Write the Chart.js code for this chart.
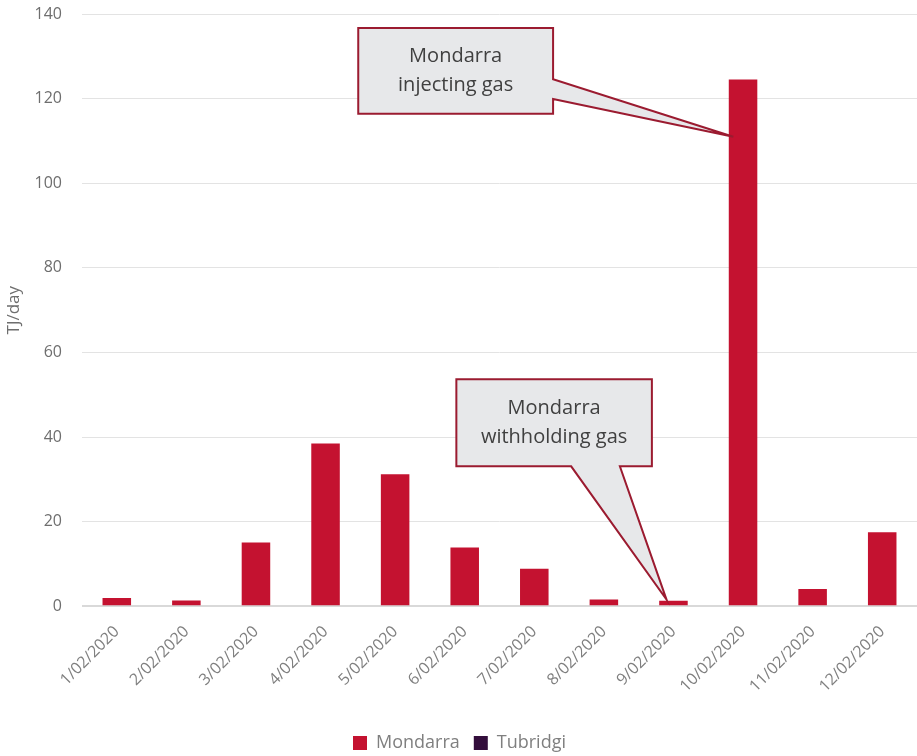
<!DOCTYPE html>
<html>
<head>
<meta charset="utf-8">
<script src="https://cdn.jsdelivr.net/npm/chart.js@4.4.1/dist/chart.umd.min.js"></script>
<style>
  html, body { margin: 0; padding: 0; background: #ffffff; }
  #wrap { width: 917px; height: 756px; }
</style>
</head>
<body>
<div id="wrap"><canvas id="c" width="917" height="756"></canvas></div>
<script>
// ---- data ----
const categories = ['1/02/2020','2/02/2020','3/02/2020','4/02/2020','5/02/2020','6/02/2020',
                    '7/02/2020','8/02/2020','9/02/2020','10/02/2020','11/02/2020','12/02/2020'];
const mondarra = [2.0, 1.4, 15.1, 38.5, 31.2, 13.9, 8.9, 1.6, 1.35, 124.5, 4.1, 17.5];
const tubridgi = [0, 0, 0, 0, 0, 0, 0, 0, 0, 0, 0, 0];
const yTicks = [0, 20, 40, 60, 80, 100, 120, 140];

// callout annotations (in category-index / value units)
const callouts = [
  { lines: ['Mondarra', 'injecting gas'], x0: 3.47, x1: 6.27, yTop: 136.7, yBot: 116.4,
    side: 'right', base: [124.6, 119.9], tip: { x: 8.86, y: 111 } },
  { lines: ['Mondarra', 'withholding gas'], x0: 4.88, x1: 7.69, yTop: 53.7, yBot: 33.1,
    side: 'bottom', base: [6.53, 7.23], tip: { x: 7.9, y: 1.6 } }
];

const FONT = "'Open Sans', 'Noto Sans', sans-serif";

const calloutPlugin = {
  id: 'callouts',
  afterDatasetsDraw(chart) {
    const ctx = chart.ctx;
    const xs = chart.scales.x, ys = chart.scales.y;
    callouts.forEach(c => {
      const L = xs.getPixelForValue(c.x0), R = xs.getPixelForValue(c.x1);
      const T = ys.getPixelForValue(c.yTop), B = ys.getPixelForValue(c.yBot);
      const tx = xs.getPixelForValue(c.tip.x), ty = ys.getPixelForValue(c.tip.y);
      ctx.save();
      ctx.beginPath();
      ctx.moveTo(L, T);
      ctx.lineTo(R, T);
      if (c.side === 'right') {
        const b1 = ys.getPixelForValue(c.base[0]), b2 = ys.getPixelForValue(c.base[1]);
        ctx.lineTo(R, b1);
        ctx.lineTo(tx, ty);
        ctx.lineTo(R, b2);
        ctx.lineTo(R, B);
        ctx.lineTo(L, B);
      } else {
        const b1 = xs.getPixelForValue(c.base[0]), b2 = xs.getPixelForValue(c.base[1]);
        ctx.lineTo(R, B);
        ctx.lineTo(b2, B);
        ctx.lineTo(tx, ty);
        ctx.lineTo(b1, B);
        ctx.lineTo(L, B);
      }
      ctx.closePath();
      ctx.fillStyle = '#E7E8EA';
      ctx.fill();
      ctx.lineWidth = 2;
      ctx.lineJoin = 'miter';
      ctx.strokeStyle = '#9B1B30';
      ctx.stroke();
      ctx.fillStyle = '#404040';
      ctx.font = '20px ' + FONT;
      ctx.textAlign = 'center';
      ctx.textBaseline = 'middle';
      const cx = (L + R) / 2, cy = (T + B) / 2;
      const lh = 29;
      c.lines.forEach((ln, i) => {
        ctx.fillText(ln, cx, cy + (i - (c.lines.length - 1) / 2) * lh);
      });
      ctx.restore();
    });
  }
};

new Chart(document.getElementById('c'), {
  type: 'bar',
  data: {
    labels: categories,
    datasets: [
      { label: 'Mondarra', data: mondarra, backgroundColor: '#C41230', grouped: false,
        barPercentage: 0.41, categoryPercentage: 1.0, borderWidth: 0 },
      { label: 'Tubridgi', data: tubridgi, backgroundColor: '#330E3C', grouped: false,
        barPercentage: 0.41, categoryPercentage: 1.0, borderWidth: 0 }
    ]
  },
  options: {
    responsive: false,
    animation: false,
    layout: { padding: { top: 14, right: 0, left: 2, bottom: -6 } },
    plugins: {
      legend: {
        position: 'bottom',
        labels: { font: { family: FONT, size: 18 }, color: '#7F7F7F',
                  boxWidth: 14, boxHeight: 14, padding: 14 }
      },
      tooltip: { enabled: false }
    },
    scales: {
      x: {
        grid: { display: false, drawTicks: false },
        border: { display: false },
        afterFit(scale) { scale.height += 8; },
        ticks: { font: { family: FONT, size: 16 }, color: '#7F7F7F',
                 maxRotation: 45, minRotation: 45, padding: 16, autoSkip: false }
      },
      y: {
        min: 0, max: 140,
        afterBuildTicks(scale) { scale.ticks = yTicks.map(v => ({ value: v })); },
        afterFit(scale) { scale.width = 80; scale.paddingTop = 0; scale.paddingBottom = 0; },
        grid: {
          drawTicks: false,
          color: ctx => ctx.tick && ctx.tick.value === 0 ? '#D9D9D9' : '#E3E3E3',
          lineWidth: ctx => ctx.tick && ctx.tick.value === 0 ? 2 : 1
        },
        border: { display: false },
        ticks: { font: { family: FONT, size: 16 }, color: '#6E6E6E', padding: 20 },
        title: { display: true, text: 'TJ/day', font: { family: FONT, size: 17 },
                 color: '#6E6E6E', padding: { top: 2, bottom: 0 } }
      }
    }
  },
  plugins: [calloutPlugin]
});
</script>
</body>
</html>
